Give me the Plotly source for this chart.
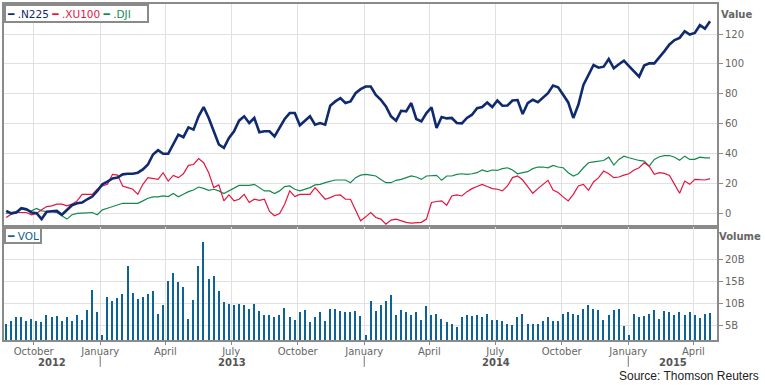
import pandas as pd
import plotly.graph_objects as go

# ---------------- data (weekly, relative performance in %) ----------------
start_date = "2012-08-24"

n225 = [1.5, -0.2, 0.4, 3.3, 2.6, 0.4, 0.0, -4.0, 0.9, 1.1,
        1.5, -1.1, 2.0, 5.3, 6.6, 7.1, 9.3, 11.1, 14.9, 19.3,
        21.1, 23.3, 23.8, 26.0, 26.4, 26.4, 27.1, 29.3, 32.6, 39.3,
        42.2, 39.8, 39.8, 46.0, 52.6, 50.9, 57.5, 56.0, 64.9, 71.1,
        63.8, 54.9, 46.0, 43.8, 50.4, 54.9, 62.0, 64.9, 60.4, 63.8,
        54.2, 54.9, 54.9, 51.5, 57.1, 63.1, 67.1, 67.1, 58.9, 62.0,
        64.9, 59.3, 60.4, 59.3, 72.0, 74.9, 77.1, 73.8, 74.9, 80.4,
        83.1, 84.9, 84.9, 79.3, 76.0,
        71.5, 64.9, 62.0, 68.6, 68.2, 73.8, 63.1, 61.5, 67.1, 70.9,
        57.1, 64.4, 63.5, 63.8, 60.4, 60.2, 63.8, 66.0, 70.4, 71.1,
        74.2, 71.1, 75.5, 72.0, 72.2, 75.5, 75.8, 66.4, 73.8, 76.0,
        74.4, 77.5, 80.4, 85.5, 84.4, 79.3, 74.2, 63.8, 72.6, 86.0,
        92.6, 99.3, 97.5, 98.2, 103.3, 97.1, 99.8, 102.2, 98.6, 95.3,
        91.5, 98.9, 100.4, 100.4, 104.2, 108.6, 113.1, 116.0, 117.5, 122.0,
        119.7, 120.8, 126.0, 123.7, 128.7]

xu100 = [-2.9, -0.7, 0.4, 0.4, 0.4, -1.1, -0.2, 2.2, 4.4, 4.9,
         6.0, 6.0, 4.9, 6.0, 8.2, 12.6, 12.6, 12.6, 16.0, 18.2,
         19.3, 26.0, 25.5, 18.2, 17.1, 16.0, 12.6, 19.3, 23.8, 23.3,
         22.6, 27.1, 21.5, 25.3, 23.8, 26.4, 32.0, 32.6, 36.6, 33.8,
         27.1, 17.1, 18.9, 8.2, 12.2, 8.2, 9.3, 12.6, 7.1, 9.3,
         8.6, 9.3, 1.1, -1.8, -0.2, 6.0, 14.9, 11.1, 12.6, 12.6,
         12.6, 17.1, 13.1, 9.3, 10.4, 12.0, 12.2, 9.3, 9.3, 2.0,
         -5.1, -2.5, 0.4, -2.9, -4.0,
         -7.4, -4.7, -4.0, -5.1, -6.2, -6.7, -6.2, -6.2, -4.0, 7.1,
         7.8, 8.2, 5.3, 11.5, 12.2, 11.5, 14.4, 16.4, 17.8, 19.3,
         17.8, 16.4, 16.0, 14.9, 18.2, 23.8, 24.9, 22.2, 17.8, 13.3,
         16.4, 19.3, 22.0, 15.5, 13.8, 10.9, 8.2, 12.6, 18.2, 19.3,
         15.3, 20.9, 23.8, 28.2, 26.4, 23.8, 24.2, 25.5, 26.4, 28.9,
         30.4, 33.8, 31.5, 26.0, 27.1, 26.6, 25.3, 19.3, 13.3, 21.5,
         19.3, 22.6, 22.2, 22.2, 23.1]

dji = [-0.2, 0.4, 1.1, 2.6, 2.2, 1.5, 3.1, 1.5, 1.1, 1.1,
       0.4, -1.8, -4.0, -1.1, -0.2, 0.0, 0.4, 0.4, -1.1, 2.2,
       3.3, 4.4, 6.0, 6.6, 6.6, 6.6, 6.6, 8.2, 10.0, 10.9,
       10.9, 11.5, 11.1, 13.1, 10.9, 12.6, 14.4, 15.5, 17.5, 16.6,
       15.3, 16.0, 14.9, 13.1, 14.9, 17.1, 18.6, 18.6, 18.6, 19.3,
       17.1, 14.9, 14.9, 13.1, 14.9, 17.8, 18.2, 16.0, 14.9, 16.0,
       17.1, 18.9, 19.3, 20.4, 21.5, 22.2, 22.2, 22.2, 20.4, 23.8,
       25.5, 26.0, 25.5, 24.9, 22.6,
       20.4, 20.4, 22.0, 22.6, 23.8, 24.9, 24.2, 22.6, 24.9, 24.9,
       25.3, 22.0, 24.9, 24.9, 26.0, 26.4, 26.0, 26.4, 27.1, 28.9,
       27.8, 28.9, 28.6, 29.8, 30.4, 28.9, 26.4, 27.1, 27.8, 29.8,
       30.9, 30.9, 30.4, 32.0, 30.9, 30.4, 27.1, 24.9, 26.4, 30.4,
       33.8, 34.4, 34.9, 35.3, 37.5, 32.2, 36.0, 38.2, 37.1, 36.0,
       35.3, 34.9, 31.5, 36.0, 37.8, 38.6, 38.6, 37.5, 35.5, 38.2,
       36.0, 36.0, 37.5, 37.1, 37.1]

# weekly volume, billions
vol_b = [5.2, 5.8, 6.7, 6.7, 5.9, 6.4, 5.8, 5.5, 7.3, 6.7,
         7.0, 5.9, 6.7, 5.9, 7.1, 6.1, 8.4, 13.0, 8.0, 2.7,
         11.4, 10.3, 11.2, 12.0, 18.5, 12.2, 10.9, 11.4, 12.0, 12.7,
         7.4, 9.4, 15.0, 16.9, 14.8, 13.7, 6.4, 10.7, 18.3, 23.9,
         15.5, 16.1, 12.6, 10.1, 9.8, 9.4, 9.8, 9.4, 8.6, 9.8,
         8.2, 7.1, 7.1, 6.7, 7.3, 8.9, 6.7, 6.1, 8.0, 8.3,
         5.5, 6.7, 7.8, 5.8, 8.6, 8.6, 8.2, 8.0, 8.0, 8.2,
         6.9, 2.6, 10.5, 8.2,
         9.4, 10.5, 11.8, 7.1, 8.4, 7.8, 7.3, 7.8, 6.0, 9.2,
         7.1, 7.5, 6.4, 5.5, 5.2, 4.4, 6.7, 7.1, 6.9, 7.1,
         6.7, 7.5, 6.1, 6.1, 5.9, 5.2, 5.0, 6.7, 7.5, 5.2,
         5.2, 5.2, 5.9, 6.7, 5.9, 5.8, 7.5, 7.8, 7.5, 7.3,
         8.6, 9.5, 8.6, 8.4, 6.1, 7.1, 8.4, 8.6, 4.8, 2.6,
         7.5, 6.7, 6.9, 7.5, 8.4, 6.4, 8.2, 7.9, 7.3, 7.9,
         7.3, 7.8, 7.3, 6.5, 7.5, 7.7]

value_ticks = [0, 20, 40, 60, 80, 100, 120]
vol_ticks = [5, 10, 15, 20]
vol_tick_labels = ["5B", "10B", "15B", "20B"]
source_text = "Source: Thomson Reuters"

# ---------------- styling ----------------
NAVY = "#0f2a6e"
RED = "#e3153f"
GREEN = "#14894f"
BLUE = "#0d6298"
GRID = "#e2e0e0"
FRAME = "#8a8a8a"
TXT = "#666666"
FONT = "DejaVu Sans"

dates = pd.date_range(start_date, periods=len(n225), freq="7D")
x_range = [pd.Timestamp("2012-08-21"), pd.Timestamp("2015-05-03 16:00")]

fig = go.Figure()
fig.add_trace(go.Scatter(x=dates, y=dji, mode="lines", name=".DJI",
                         line=dict(color=GREEN, width=1.2), xaxis="x", yaxis="y"))
fig.add_trace(go.Scatter(x=dates, y=xu100, mode="lines", name=".XU100",
                         line=dict(color=RED, width=1.2), xaxis="x", yaxis="y"))
fig.add_trace(go.Scatter(x=dates, y=n225, mode="lines", name=".N225",
                         line=dict(color=NAVY, width=2.6), xaxis="x", yaxis="y"))
fig.add_trace(go.Bar(x=dates, y=vol_b, name="VOL", marker=dict(color=BLUE, line=dict(width=0)),
                     width=1.9 * 86400000, xaxis="x2", yaxis="y2"))

axis_common = dict(showline=True, linecolor=FRAME, linewidth=2, mirror=True,
                   showgrid=True, gridcolor=GRID, gridwidth=1, zeroline=False)

fig.update_layout(
    width=765, height=385,
    margin=dict(l=2, r=48, t=2, b=45),
    paper_bgcolor="white", plot_bgcolor="white",
    showlegend=False,
    font=dict(family=FONT, size=10, color=TXT),
    xaxis=dict(domain=[0, 1], anchor="y", range=x_range, type="date",
               tick0="2012-10-01", dtick="M3", showticklabels=False, ticks="",
               **axis_common),
    yaxis=dict(domain=[0.335, 1], anchor="x", side="right", range=[-9.6, 140.2],
               tickvals=value_ticks, ticks="outside", ticklen=4, tickcolor=FRAME,
               tickfont=dict(family=FONT, size=10, color=TXT), **axis_common),
    xaxis2=dict(domain=[0, 1], anchor="y2", range=x_range, type="date", matches="x",
                tick0="2012-10-01", dtick="M3", tickformat="%B", ticks="outside",
                ticklen=3, tickcolor=FRAME, ticklabelstandoff=-2,
                tickfont=dict(family=FONT, size=10, color=TXT), **axis_common),
    yaxis2=dict(domain=[0, 0.335], anchor="x2", side="right", range=[1.6, 27.3],
                tickvals=vol_ticks, ticktext=vol_tick_labels, ticks="outside", ticklen=4,
                tickcolor=FRAME, tickfont=dict(family=FONT, size=10, color=TXT),
                **axis_common),
    bargap=0,
)

# legends (boxed)
legend_text = (f'<span style="color:{NAVY}"><b>━</b> .N225</span> '
               f'<span style="color:{RED}"><b>━</b> .XU100</span> '
               f'<span style="color:{GREEN}"><b>━</b> .DJI</span>')
fig.add_annotation(text=legend_text, xref="paper", yref="paper", x=0, y=1,
                   xanchor="left", yanchor="top", showarrow=False, align="left",
                   width=139, height=13, bgcolor="white", bordercolor=FRAME,
                   borderwidth=2, borderpad=1, font=dict(family=FONT, size=10.5))
fig.add_annotation(text=f'<span style="color:{BLUE}"><b>━</b> VOL</span>',
                   xref="paper", yref="paper", x=0, y=0.335,
                   xanchor="left", yanchor="top", showarrow=False, align="left",
                   width=32, height=11, bgcolor="white", bordercolor=FRAME,
                   borderwidth=2, borderpad=1, font=dict(family=FONT, size=10.5))

# axis titles
fig.add_annotation(text="<b>Value</b>", xref="paper", yref="paper", x=1.028, y=0.970,
                   xanchor="center", yanchor="middle", showarrow=False,
                   font=dict(family=FONT, size=10, color=TXT))
fig.add_annotation(text="<b>Volume</b>", xref="paper", yref="paper", x=1.032, y=0.308,
                   xanchor="center", yanchor="middle", showarrow=False,
                   font=dict(family=FONT, size=10, color=TXT))

# year labels centred on visible part of each year, separators at year starts
for yr in range(x_range[0].year, x_range[1].year + 1):
    a = max(x_range[0], pd.Timestamp(f"{yr}-01-01"))
    b = min(x_range[1], pd.Timestamp(f"{yr + 1}-01-01"))
    mid = a + (b - a) / 2
    fig.add_annotation(text=f"<b>{yr}</b>", xref="x2", yref="paper", x=mid, y=-0.068,
                       xanchor="center", yanchor="middle", showarrow=False,
                       font=dict(family=FONT, size=10, color="#555555"))
    if yr > x_range[0].year:
        fig.add_shape(type="line", xref="x2", yref="paper",
                      x0=pd.Timestamp(f"{yr}-01-01"), x1=pd.Timestamp(f"{yr}-01-01"),
                      y0=-0.047, y1=-0.080, line=dict(color="#777777", width=1))

fig.add_annotation(text=source_text, xref="paper", yref="paper", x=1.0615, y=-0.1065,
                   xanchor="right", yanchor="middle", showarrow=False,
                   font=dict(family="Liberation Sans", size=12, color="#222222"))

fig.write_html("out.html", config={"displayModeBar": False},
               post_script="document.body.style.margin='0px';")
